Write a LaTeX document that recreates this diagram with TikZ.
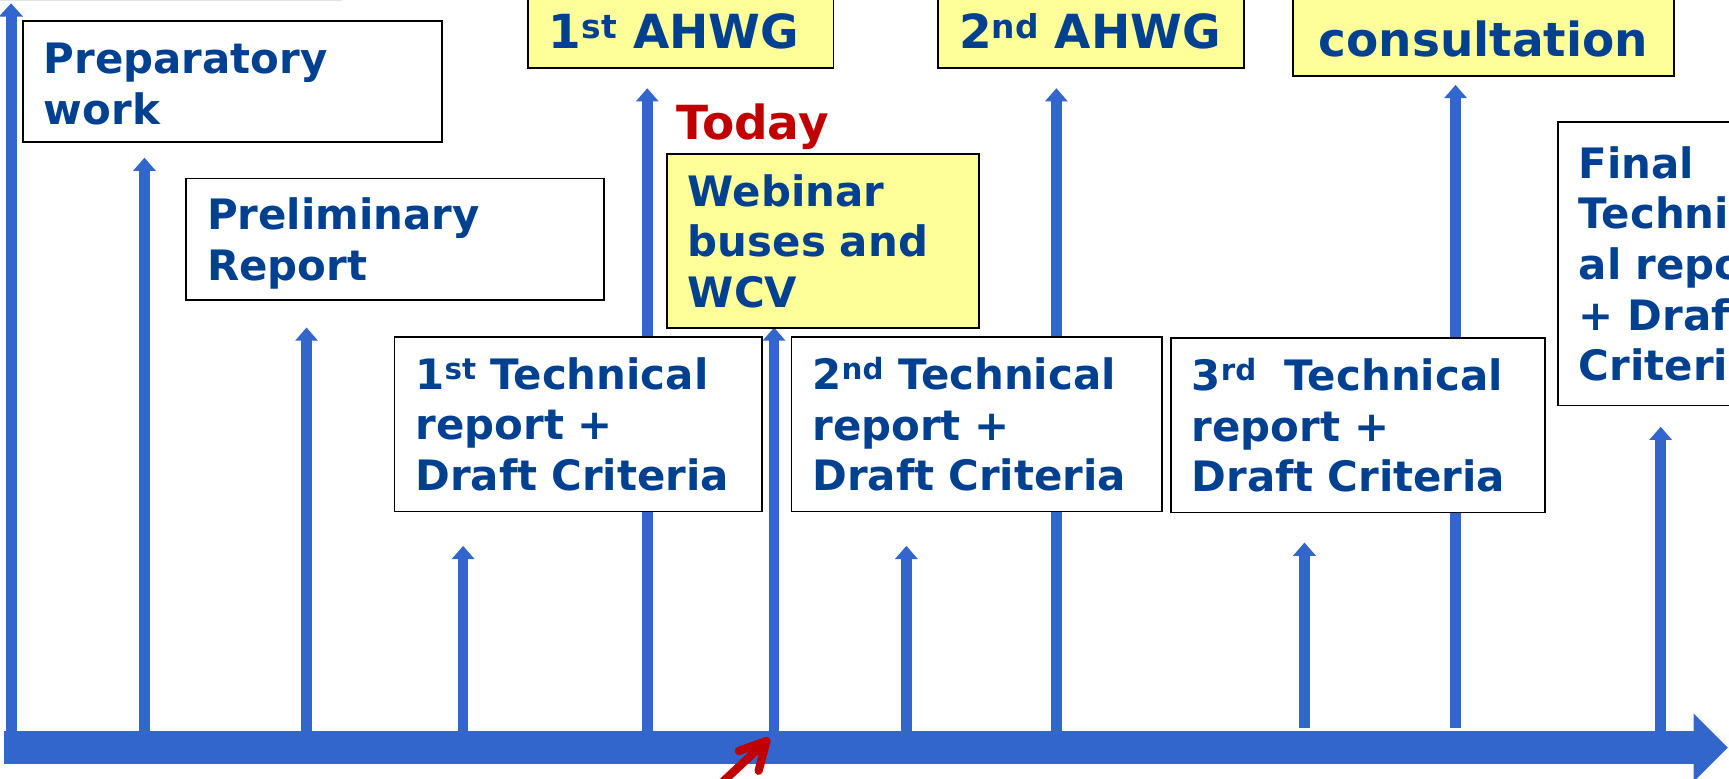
\documentclass[tikz,border=0pt]{standalone}
\usepackage{fontspec}
\newfontfamily\vfont{DejaVu Sans}
\usetikzlibrary{arrows.meta}
\definecolor{tlblue}{RGB}{51,102,204}
\definecolor{txtblue}{RGB}{0,64,145}
\definecolor{boxyellow}{RGB}{255,255,153}
\definecolor{todayred}{RGB}{192,0,0}
\newcommand{\nodp}[1]{\raisebox{0pt}[\height][0pt]{#1}}
\begin{document}
\begin{tikzpicture}[x=1pt,y=-1pt,
  tick/.style={draw=tlblue, line width=9.5pt, -{Triangle[width=20pt,length=12pt]}},
  timeline/.style={draw=tlblue, line width=30pt, -{Triangle[width=60pt,length=31pt]}},
  boxbase/.style={draw=black, line width=1.6pt, anchor=north west, align=left,
    inner xsep=19pt, inner ysep=0pt, text=txtblue},
  wbox/.style={boxbase, fill=white, font=\vfont\bfseries\fontsize{38}{46}\selectfont},
  ybox/.style={boxbase, fill=boxyellow, font=\vfont\bfseries\fontsize{38}{46}\selectfont},
  ybigbox/.style={boxbase, fill=boxyellow, font=\vfont\bfseries\fontsize{42.6}{50}\selectfont},
  todaytxt/.style={text=todayred, inner sep=0pt, font=\vfont\bfseries\fontsize{42.6}{50}\selectfont},
  redstroke/.style={draw=todayred, line width=7.5pt, line cap=round, line join=round}
]
\useasboundingbox (0,0) rectangle (1568,706);
\clip (0,0) rectangle (1568,706);

% faint top line
\draw[draw=gray!22, line width=1.2pt] (0,0.6) -- (310,0.6);

% left axis
\coordinate (axb) at (10,693);
\coordinate (axt) at (10,3);
\draw[draw=tlblue, line width=10pt, -{Triangle[width=21pt,length=12pt]}] (axb) -- (axt);

% ticks
\foreach \i/\x/\t/\b in {1/131/143/678, 2/278/297/678, 3/420/495/678, 4/587/80/678,
  5/702/297/678, 6/822/495/678, 7/958/80/678, 8/1183/492/660, 9/1320/77/660, 10/1506/387/678}{
  \coordinate (b\i) at (\x,\b);
  \coordinate (t\i) at (\x,\t);
  \draw[tick] (b\i) -- (t\i);
}

% timeline
\coordinate (tls) at (4,678);
\coordinate (tle) at (1567,678);
\draw[timeline] (tls) -- (tle);

% boxes
\node[wbox, text width=342pt, minimum height=110pt] (prep) at (20,18) {\rule{0pt}{32pt}Preparatory\\work};
\node[wbox, text width=341pt, minimum height=110pt] (prelim) at (168,161) {Preliminary\\\nodp{Report}};
\node[ybigbox, text width=239pt, minimum height=66pt] (ahwg1) at (478,-5) {1\textsuperscript{st} AHWG};
\node[ybigbox, text width=239pt, minimum height=66pt] (ahwg2) at (850,-5) {2\textsuperscript{nd} AHWG};
\node[ybigbox, anchor=south west, minimum width=345pt, text height=100pt, text depth=18pt] (consult) at (1172,70) {consultation};
\node[todaytxt, anchor=west] (today) at (613,115) {Today};
\node[ybox, text width=245pt, minimum height=158pt] (webinar) at (604,139) {Webinar\\buses and\\WCV};
\node[wbox, text width=295pt, minimum height=158pt] (tech1) at (357,305) {1\textsuperscript{st} Technical\\report +\\Draft Criteria};
\node[wbox, text width=298pt, minimum height=158pt] (tech2) at (717,305) {2\textsuperscript{nd} Technical\\report +\\Draft Criteria};
\node[wbox, text width=301pt, minimum height=158pt] (tech3) at (1061,306) {3\textsuperscript{rd}\ \ Technical\\report +\\Draft Criteria};
\node[wbox, text width=262pt, minimum height=257pt] (final) at (1412,110) {Final\\Technic\\al report\\+ Draft\\Criteria};

% red pointer
\coordinate (rtail) at (648,716);
\coordinate (rtip) at (695,672);
\coordinate (rarm1) at (670,681);
\coordinate (rarm2) at (688,699);
\draw[redstroke] (rtail) -- (rtip);
\draw[redstroke] (rarm1) -- (rtip) -- (rarm2);
\end{tikzpicture}
\end{document}
